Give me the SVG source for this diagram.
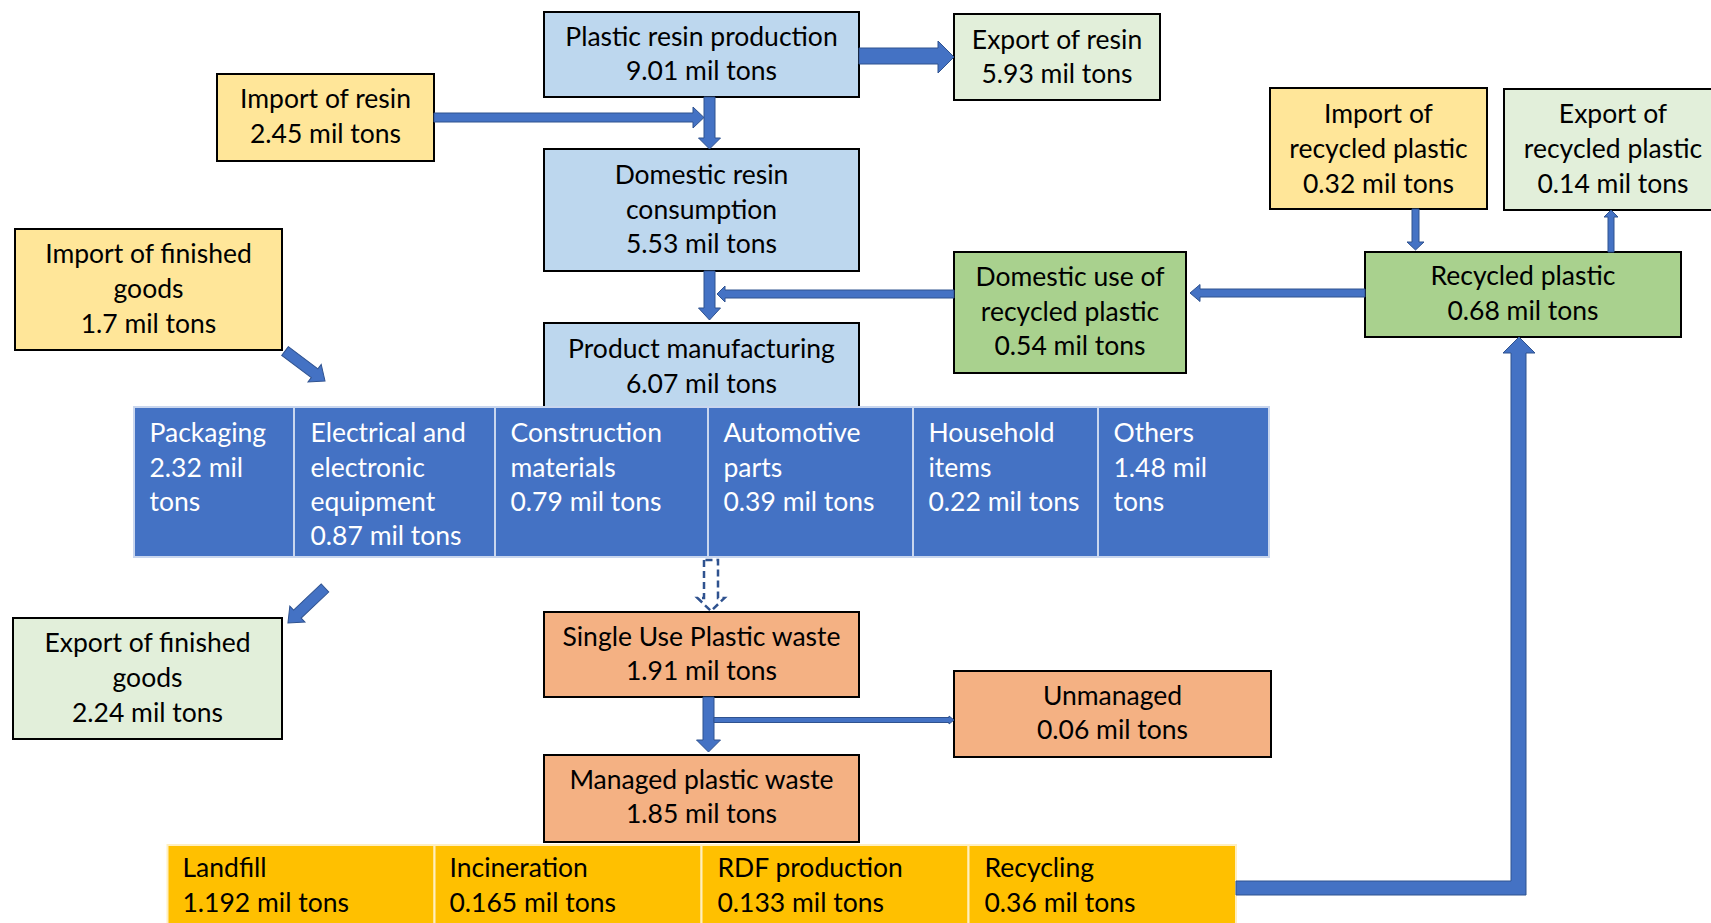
<svg xmlns="http://www.w3.org/2000/svg" width="1711" height="923" viewBox="0 0 1711 923">
<style>
.box{stroke:#000;stroke-width:2}
.blue{fill:#BDD7EE}.lg{fill:#E2EFDA}.yel{fill:#FFE699}.grn{fill:#A9D18E}.org{fill:#F4B183}
.cat{fill:#4472C4;stroke:#C9D6EE;stroke-width:2}
.bot{fill:#FFC000;stroke:#FFEFC0;stroke-width:2}
.t{font-family:Lato,'Liberation Sans',sans-serif;font-size:26.5px;fill:#000;text-anchor:middle}
.tl{font-family:Lato,'Liberation Sans',sans-serif;font-size:26.5px;fill:#fff;text-anchor:start}
.tb{font-family:Lato,'Liberation Sans',sans-serif;font-size:26.5px;fill:#000;text-anchor:start}
.arr{fill:#4472C4;stroke:#2F528F;stroke-width:1}
.dash{fill:#fff;stroke:#2F528F;stroke-width:2.5;stroke-dasharray:7 4}
</style>
<rect width="1711" height="923" fill="#fff"/>
<g id="n-resin-prod"><rect class="box blue" x="544" y="12" width="315" height="85"/><text class="t" x="701.5" y="46">Plastic resin production</text><text class="t" x="701.5" y="80">9.01 mil tons</text></g>
<g id="n-export-resin"><rect class="box lg" x="954" y="14" width="206" height="86"/><text class="t" x="1057" y="49">Export of resin</text><text class="t" x="1057" y="83">5.93 mil tons</text></g>
<g id="n-import-resin"><rect class="box yel" x="217" y="74" width="217" height="87"/><text class="t" x="325.5" y="108">Import of resin</text><text class="t" x="325.5" y="143">2.45 mil tons</text></g>
<g id="n-import-goods"><rect class="box yel" x="15" y="229" width="267" height="121"/><text class="t" x="148.5" y="263">Import of finished</text><text class="t" x="148.5" y="298">goods</text><text class="t" x="148.5" y="333">1.7 mil tons</text></g>
<g id="n-dom-resin"><rect class="box blue" x="544" y="149" width="315" height="122"/><text class="t" x="701.5" y="184">Domestic resin</text><text class="t" x="701.5" y="219">consumption</text><text class="t" x="701.5" y="253">5.53 mil tons</text></g>
<g id="n-product"><rect class="box blue" x="544" y="323" width="315" height="90"/><text class="t" x="701.5" y="358">Product manufacturing</text><text class="t" x="701.5" y="393">6.07 mil tons</text></g>
<g id="n-dom-recycled"><rect class="box grn" x="954" y="252" width="232" height="121"/><text class="t" x="1070" y="286">Domestic use of</text><text class="t" x="1070" y="321">recycled plastic</text><text class="t" x="1070" y="355">0.54 mil tons</text></g>
<g id="n-import-rec"><rect class="box yel" x="1270" y="88" width="217" height="121"/><text class="t" x="1378.5" y="123">Import of</text><text class="t" x="1378.5" y="158">recycled plastic</text><text class="t" x="1378.5" y="193">0.32 mil tons</text></g>
<g id="n-export-rec"><rect class="box lg" x="1504" y="89" width="222" height="121"/><text class="t" x="1613" y="123">Export of</text><text class="t" x="1613" y="158">recycled plastic</text><text class="t" x="1613" y="193">0.14 mil tons</text></g>
<g id="n-recycled"><rect class="box grn" x="1365" y="252" width="316" height="85"/><text class="t" x="1523" y="285">Recycled plastic</text><text class="t" x="1523" y="320">0.68 mil tons</text></g>
<g id="n-categories">
<rect class="cat" x="134" y="407" width="160" height="150"/>
<rect class="cat" x="294" y="407" width="201" height="150"/>
<rect class="cat" x="495" y="407" width="213" height="150"/>
<rect class="cat" x="708" y="407" width="205" height="150"/>
<rect class="cat" x="913" y="407" width="185" height="150"/>
<rect class="cat" x="1098" y="407" width="171" height="150"/>
<text class="tl" x="149.5" y="442">Packaging</text><text class="tl" x="149.5" y="477">2.32 mil</text><text class="tl" x="149.5" y="511">tons</text>
<text class="tl" x="310.5" y="442">Electrical and</text><text class="tl" x="310.5" y="477">electronic</text><text class="tl" x="310.5" y="511">equipment</text><text class="tl" x="310.5" y="545">0.87 mil tons</text>
<text class="tl" x="510.5" y="442">Construction</text><text class="tl" x="510.5" y="477">materials</text><text class="tl" x="510.5" y="511">0.79 mil tons</text>
<text class="tl" x="723.5" y="442">Automotive</text><text class="tl" x="723.5" y="477">parts</text><text class="tl" x="723.5" y="511">0.39 mil tons</text>
<text class="tl" x="928.5" y="442">Household</text><text class="tl" x="928.5" y="477">items</text><text class="tl" x="928.5" y="511">0.22 mil tons</text>
<text class="tl" x="1113.5" y="442">Others</text><text class="tl" x="1113.5" y="477">1.48 mil</text><text class="tl" x="1113.5" y="511">tons</text>
</g>
<g id="n-export-goods"><rect class="box lg" x="13" y="618" width="269" height="121"/><text class="t" x="147.5" y="652">Export of finished</text><text class="t" x="147.5" y="687">goods</text><text class="t" x="147.5" y="722">2.24 mil tons</text></g>
<g id="n-single-use"><rect class="box org" x="544" y="612" width="315" height="85"/><text class="t" x="701.5" y="646">Single Use Plastic waste</text><text class="t" x="701.5" y="680">1.91 mil tons</text></g>
<g id="n-managed"><rect class="box org" x="544" y="755" width="315" height="87"/><text class="t" x="701.5" y="789">Managed plastic waste</text><text class="t" x="701.5" y="823">1.85 mil tons</text></g>
<g id="n-unmanaged"><rect class="box org" x="954" y="671" width="317" height="86"/><text class="t" x="1112.5" y="705">Unmanaged</text><text class="t" x="1112.5" y="739">0.06 mil tons</text></g>
<g id="n-treatment">
<rect class="bot" x="167.5" y="845" width="267" height="90"/>
<rect class="bot" x="434.5" y="845" width="267" height="90"/>
<rect class="bot" x="701.5" y="845" width="267" height="90"/>
<rect class="bot" x="968.5" y="845" width="267.5" height="90"/>
<text class="tb" x="182.5" y="877">Landfill</text><text class="tb" x="182.5" y="912">1.192 mil tons</text>
<text class="tb" x="449.5" y="877">Incineration</text><text class="tb" x="449.5" y="912">0.165 mil tons</text>
<text class="tb" x="717.5" y="877">RDF production</text><text class="tb" x="717.5" y="912">0.133 mil tons</text>
<text class="tb" x="984.5" y="877">Recycling</text><text class="tb" x="984.5" y="912">0.36 mil tons</text>
</g>
<g id="connectors">
<path class="arr" d="M859,48 L938,48 L938,41 L954,57 L938,73 L938,64 L859,64 Z"/>
<path class="arr" d="M434,113 L693,113 L693,107 L704,117.5 L693,128 L693,122 L434,122 Z"/>
<path class="arr" d="M704,97 L715,97 L715,138 L720.5,138 L709.5,149 L698.5,138 L704,138 Z"/>
<path class="arr" d="M704,271 L715,271 L715,308 L720.5,308 L709.5,320 L698.5,308 L704,308 Z"/>
<path class="arr" d="M954,290 L725,290 L725,286 L717,294 L725,302 L725,298 L954,298 Z"/>
<path class="arr" d="M1412,209 L1419,209 L1419,242 L1424,242 L1415.5,250 L1407,242 L1412,242 Z"/>
<path class="arr" d="M1608,252 L1608,217 L1604,217 L1611,210 L1618,217 L1614,217 L1614,252 Z"/>
<path class="arr" d="M1365,289 L1200,289 L1200,284.5 L1190,293 L1200,301.5 L1200,297 L1365,297 Z"/>
<path class="arr" transform="translate(285,351) rotate(36.87)" d="M0,-5.5 L37,-5.5 L37,-11 L50,0 L37,11 L37,5.5 L0,5.5 Z"/>
<path class="arr" transform="translate(325,588) rotate(136.6)" d="M0,-5.5 L38,-5.5 L38,-11 L51,0 L38,11 L38,5.5 L0,5.5 Z"/>
<path class="dash" d="M704,560 L704,598 L697.5,598 L711,611 L724.5,598 L718,598 L718,560 Z"/>
<path class="arr" d="M703,697 L714,697 L714,740 L720.5,740 L708.5,752 L696.5,740 L703,740 Z"/>
<path class="arr" d="M714,717.5 L949,717.5 L949,716 L954,720 L949,724 L949,722.5 L714,722.5 Z"/>
<path class="arr" d="M1236,881 L1511,881 L1511,353 L1503,353 L1519,337 L1535,353 L1526,353 L1526,895 L1236,895 Z"/>
</g>
</svg>
